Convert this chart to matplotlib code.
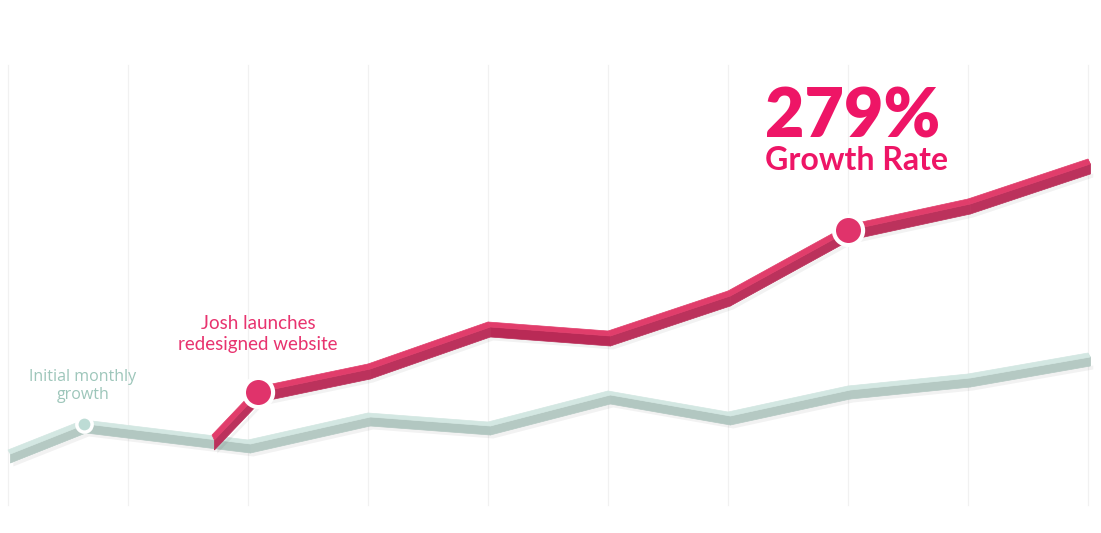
import matplotlib
matplotlib.use("Agg")
import matplotlib.pyplot as plt
import numpy as np

# ---- data ----
grid_x = list(range(10))
gray_x = [0, 0.63, 2, 3, 4, 5, 6, 7, 8, 9]
gray_y = [55, 85, 65, 92, 83, 114, 93, 119, 131, 152]
pink_x = [1.7, 2.08, 3, 4, 5, 6, 7, 8, 9]
pink_y = [70, 118, 141, 183, 174, 214, 280, 306, 346]
gray_marker = (0.63, 85)
pink_markers_x = [2.08, 7]
pink_markers_y = [118, 280]

GRAY_TOP, GRAY_FRONT = "#d3e7e2", "#b2c7c1"
PINK_TOP, PINK_FRONT = "#e13d6b", "#b92a56"

fig = plt.figure(figsize=(11.01, 5.33), dpi=100)
ax = fig.add_axes([0, 0, 1, 1])
ax.set_xlim(-8 / 120, 9 + 13 / 120)
ax.set_ylim(-28, 505)
ax.axis("off")

for gx in grid_x:
    ax.plot([gx, gx], [0, 440], color="#f1f1f1", lw=0.9, zorder=0)


def ribbon(xs, ys, top, front, t1, t2, dx, z):
    xs = np.asarray(xs, float)
    ys = np.asarray(ys, float)
    # soft shadow
    ax.fill_between(xs + dx * 2, ys - t1 - t2 + 1, ys - t1 - t2 - 3,
                    color="#000000", alpha=0.05, lw=0, zorder=z)
    for i in range(len(xs) - 1):
        x0, x1 = xs[i], xs[i + 1]
        y0, y1 = ys[i], ys[i + 1]
        slope = (y1 - y0) / (x1 - x0)
        shade = 0.0 if slope < 0 else 0.04
        # front face
        fx = [x0 + dx, x1 + dx, x1 + dx, x0 + dx]
        fy = [y0 - t1, y1 - t1, y1 - t1 - t2, y0 - t1 - t2]
        ax.fill(fx, fy, color=front, lw=0.5, ec=front, zorder=z + 0.1)
        if shade:
            ax.fill(fx, fy, color="white", alpha=shade, lw=0, zorder=z + 0.15)
        # top face
        tx = [x0, x1, x1 + dx, x0 + dx]
        ty = [y0, y1, y1 - t1, y0 - t1]
        ax.fill(tx, ty, color=top, lw=0.5, ec=top, zorder=z + 0.2)
    # end cap
    ax.fill([xs[-1], xs[-1] + dx, xs[-1] + dx, xs[-1]],
            [ys[-1], ys[-1] - t1, ys[-1] - t1 - t2, ys[-1] - t2],
            color=front, lw=0, zorder=z + 0.05)


ribbon(gray_x, gray_y, GRAY_TOP, GRAY_FRONT, 4, 9, 0.02, 2)
ribbon(pink_x, pink_y, PINK_TOP, PINK_FRONT, 5, 10, 0.02, 4)

ax.plot([gray_marker[0]], [gray_marker[1] - 4], "o", ms=11, mfc="#bddcd5",
        mec="white", mew=2.5, zorder=6)
ax.plot(pink_markers_x, [v - 5 for v in pink_markers_y], "o", ms=21,
        mfc="#e0336b", mec="white", mew=3, zorder=7)

ax.text(0.625, 119, "Initial monthly\ngrowth", ha="center", va="center",
        fontsize=11.5, color="#9dc6ba", family="Open Sans", linespacing=1.15,
        zorder=8)
ax.text(2.083, 171, "Josh launches\nredesigned website", ha="center",
        va="center", fontsize=13.5, color="#e8336f", family="Lato",
        linespacing=1.25, zorder=8)
ax.text(6.31, 368, "279%", ha="left", va="baseline", fontsize=49,
        color="#ee1566", family="Lato", fontweight="heavy", zorder=8)
ax.text(6.31, 335, "Growth Rate", ha="left", va="baseline", fontsize=23,
        color="#ee1566", family="Lato", fontweight="bold", zorder=8)

fig.savefig("out.png", dpi=100, facecolor="white")
